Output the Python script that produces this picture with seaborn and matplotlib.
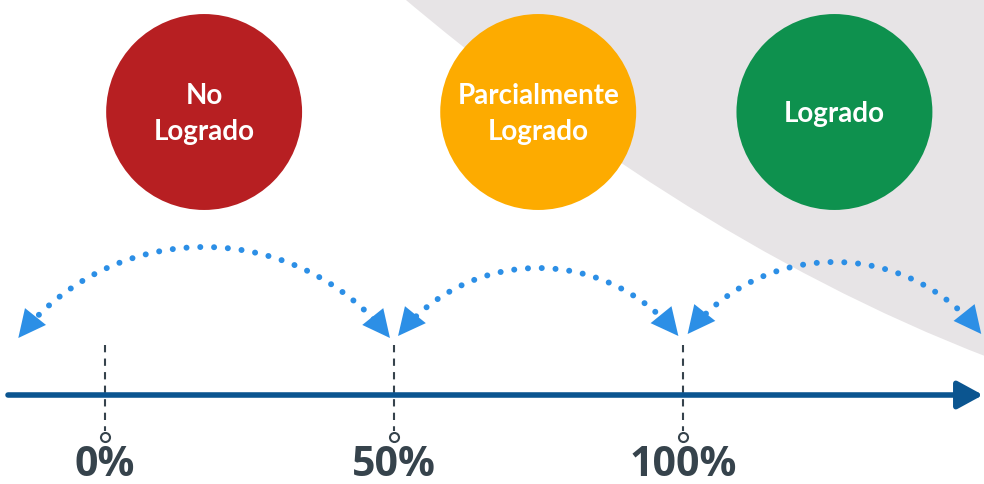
import numpy as np
import pandas as pd
import seaborn as sns
import matplotlib.pyplot as plt
from matplotlib.path import Path
from matplotlib.patches import PathPatch

# data
levels = ["No\nLogrado", "Parcialmente\nLogrado", "Logrado"]
level_colors = ["#b71f22", "#fdab00", "#0e914e"]
ticks_pct = [0, 50, 100]
tick_labels = ["0%", "50%", "100%"]
# each dotted arc jumps between two points of the scale (in %)
arc_start = [-15.0, 50.7, 100.8]
arc_end = [49.3, 99.2, 151.6]
arc_peak = [247, 268, 262]      # top of each arc (pixels from top)
arc_foot = [338, 336, 334]

sns.set_theme(style="white")

W, H = 984, 484
X0, PX_PCT = 105.0, 5.78        # 0% sits at x=105px, 1% = 5.78px


def to_pct(xpx):
    return (np.asarray(xpx) - X0) / PX_PCT


def to_px(p):
    return X0 + np.asarray(p) * PX_PCT


fig = plt.figure(figsize=(9.84, 4.84), dpi=100)
ax = fig.add_axes([0, 0, 1, 1])
ax.set_xlim(to_pct(0), to_pct(W))
ax.set_ylim(H, 0)
ax.axis("off")

# grey sweep in the upper right
verts = [(400, -5), (560, 130), (760, 270), (990, 358), (990, -5), (400, -5)]
codes = [Path.MOVETO, Path.CURVE4, Path.CURVE4, Path.CURVE4, Path.LINETO, Path.CLOSEPOLY]
verts = [(x / W, 1 - y / H) for x, y in verts]
ax.add_patch(PathPatch(Path(verts, codes), transform=ax.transAxes,
                       facecolor="#e7e4e6", edgecolor="none", zorder=0))

# circles for each level, centred over its arc
centers = [(a + b) / 2 for a, b in zip(arc_start, arc_end)]
df = pd.DataFrame({"x": centers, "y": [112] * 3, "level": levels})
sns.scatterplot(data=df, x="x", y="y", hue="level", palette=level_colors,
                s=19900, linewidth=0, legend=False, ax=ax, zorder=3)
for _, r in df.iterrows():
    ax.text(r.x, r.y + 2, r.level, ha="center", va="center", color="white",
            fontsize=20, fontweight="bold", family="Lato", linespacing=1.45, zorder=4)

# main axis arrow
ax.annotate("", xy=(to_pct(983), 395), xytext=(to_pct(8), 395),
            arrowprops=dict(arrowstyle="-|>,head_length=0.55,head_width=0.3",
                            mutation_scale=28, lw=4.0, color="#0b5590",
                            shrinkA=0, shrinkB=0), zorder=2)

# dashed ticks with small open circles and labels
dark = "#36434c"
for p, lab in zip(ticks_pct, tick_labels):
    ax.plot([p, p], [345, 431], color=dark, lw=1.5, ls=(0, (3.5, 3)), zorder=1)
    ax.plot(p, 437, marker="o", ms=6.5, mfc="white", mec=dark, mew=1.5, zorder=3)
    ax.text(p, 465, lab, ha="center", va="center", fontsize=29.5,
            fontweight="bold", family="Open Sans", color=dark)

# dotted double-headed arcs
blue = "#2c8fe6"
for a, b, top, foot in zip(arc_start, arc_end, arc_peak, arc_foot):
    xa, xb = to_px(a), to_px(b)
    c = (xb - xa) / 2
    h = foot - top
    R = (c ** 2 + h ** 2) / (2 * h)
    xm, yc = (xa + xb) / 2, top + R
    phi = np.arcsin(c / R)
    t = np.linspace(-phi, phi, 200)
    xs, ys = xm + R * np.sin(t), yc - R * np.cos(t)
    keep = (t > -phi + 0.07) & (t < phi - 0.07)
    ax.plot(to_pct(xs[keep]), ys[keep], color=blue, lw=4.3,
            ls=(0, (0.01, 2.3)), dash_capstyle="round", zorder=2)
    for tip, back in [(-phi, -phi + 0.03), (phi, phi - 0.03)]:
        tx, ty = xm + R * np.sin(tip), yc - R * np.cos(tip)
        bx, by = xm + R * np.sin(back), yc - R * np.cos(back)
        ax.annotate("", xy=(to_pct(tx), ty), xytext=(to_pct(bx), by),
                    arrowprops=dict(arrowstyle="-|>,head_length=0.45,head_width=0.22",
                                    mutation_scale=44, lw=0, color=blue,
                                    shrinkA=0, shrinkB=0), zorder=2)

fig.savefig("out.png", dpi=100)
